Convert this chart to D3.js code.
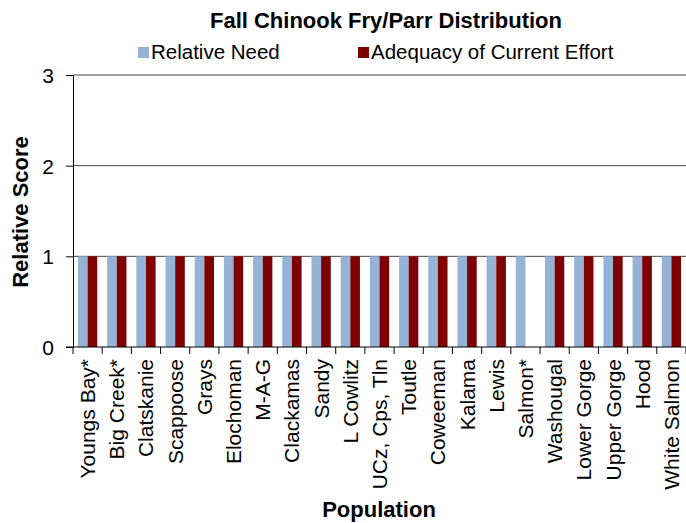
<!DOCTYPE html>
<html>
<head>
<meta charset="utf-8">
<script src="https://cdn.jsdelivr.net/npm/d3@7"></script>
<style>
  body { margin: 0; background: #fff; }
  text { font-family: "Liberation Sans", Arial, sans-serif; fill: #000; }
</style>
</head>
<body>
<div id="chart"></div>
<script>
// data
var populations = ["Youngs Bay*", "Big Creek*", "Clatskanie", "Scappoose", "Grays", "Elochoman",
    "M-A-G", "Clackamas", "Sandy", "L Cowlitz", "UCz, Cps, Tln", "Toutle", "Coweeman", "Kalama",
    "Lewis", "Salmon*", "Washougal", "Lower Gorge", "Upper Gorge", "Hood", "White Salmon"];
var relativeNeed = [1, 1, 1, 1, 1, 1, 1, 1, 1, 1, 1, 1, 1, 1, 1, 1, 1, 1, 1, 1, 1];
var currentEffort = [1, 1, 1, 1, 1, 1, 1, 1, 1, 1, 1, 1, 1, 1, 1, 0, 1, 1, 1, 1, 1];
var seriesNames = ["Relative Need", "Adequacy of Current Effort"];
var seriesColors = ["#95b3d7", "#7f0000"];
var yTicks = [0, 1, 2, 3];

var width = 686, height = 523;
var margin = {top: 75, right: 0, bottom: 176, left: 73};
var innerW = width - margin.left - margin.right,
    innerH = height - margin.top - margin.bottom;

var svg = d3.select("#chart").append("svg")
    .attr("width", width)
    .attr("height", height);

var g = svg.append("g")
    .attr("transform", "translate(" + margin.left + "," + margin.top + ")");

var x = d3.scaleBand().domain(populations).range([0, innerW]).paddingInner(0.34).paddingOuter(0.17);
var x1 = d3.scaleBand().domain(d3.range(2)).range([0, x.bandwidth()]);
var y = d3.scaleLinear().domain([0, 3]).range([innerH, 0]);

// gridlines
g.selectAll(".grid").data(yTicks.slice(1)).enter().append("line")
    .attr("x1", 0).attr("x2", innerW)
    .attr("y1", function(d) { return y(d); })
    .attr("y2", function(d) { return y(d); })
    .attr("stroke", "#444").attr("stroke-width", 1);

// bars
var rows = populations.map(function(p, i) { return {pop: p, vals: [relativeNeed[i], currentEffort[i]]}; });
var grp = g.selectAll(".grp").data(rows).enter().append("g")
    .attr("transform", function(d) { return "translate(" + x(d.pop) + ",0)"; });
grp.selectAll("rect").data(function(d) { return d.vals; }).enter().append("rect")
    .attr("x", function(d, i) { return x1(i); })
    .attr("width", x1.bandwidth())
    .attr("y", function(d) { return y(d); })
    .attr("height", function(d) { return innerH - y(d); })
    .attr("fill", function(d, i) { return seriesColors[i]; });

// y axis
var yAxis = g.append("g")
    .call(d3.axisLeft(y).tickValues(yTicks).tickFormat(d3.format("d")).tickSizeInner(7).tickSizeOuter(0));
yAxis.select(".domain").attr("stroke", "#000");
yAxis.selectAll(".tick line").attr("stroke", "#000");
yAxis.selectAll("text").style("font-size", "21px").style("font-family", "'Liberation Sans', Arial, sans-serif")
    .attr("fill", "#000").attr("x", -19).attr("dy", "0.36em");

// x axis with tick marks between categories
var xAxis = g.append("g").attr("transform", "translate(0," + innerH + ")");
xAxis.append("line").attr("x1", -7).attr("x2", innerW).attr("stroke", "#000");
var step = x.step();
xAxis.selectAll(".xt").data(d3.range(populations.length + 1)).enter().append("line")
    .attr("x1", function(d) { return d * step; })
    .attr("x2", function(d) { return d * step; })
    .attr("y1", 0).attr("y2", 7).attr("stroke", "#000");
xAxis.selectAll(".xl").data(populations).enter().append("text")
    .attr("transform", function(d) {
        return "translate(" + (x(d) + x.bandwidth() / 2 + 7.5) + ",12) rotate(-90)";
    })
    .attr("text-anchor", "end")
    .style("font-size", "21px")
    .text(function(d) { return d; });

// title
svg.append("text").attr("x", 386).attr("y", 28).attr("text-anchor", "middle")
    .style("font-size", "22px").style("font-weight", "bold")
    .text("Fall Chinook Fry/Parr Distribution");

// legend
var legendX = [138, 358];
var leg = svg.selectAll(".leg").data(seriesNames).enter().append("g")
    .attr("transform", function(d, i) { return "translate(" + legendX[i] + ",47)"; });
leg.append("rect").attr("width", 11).attr("height", 11)
    .attr("fill", function(d, i) { return seriesColors[i]; });
leg.append("text").attr("x", 13).attr("y", 11.5).style("font-size", "20.5px")
    .text(function(d) { return d; });

// axis titles
svg.append("text").attr("transform", "translate(28," + (margin.top + innerH / 2 + 1) + ") rotate(-90)")
    .attr("text-anchor", "middle").style("font-size", "22px").style("font-weight", "bold")
    .text("Relative Score");
svg.append("text").attr("x", 379).attr("y", 517).attr("text-anchor", "middle")
    .style("font-size", "22px").style("font-weight", "bold")
    .text("Population");
</script>
</body>
</html>
